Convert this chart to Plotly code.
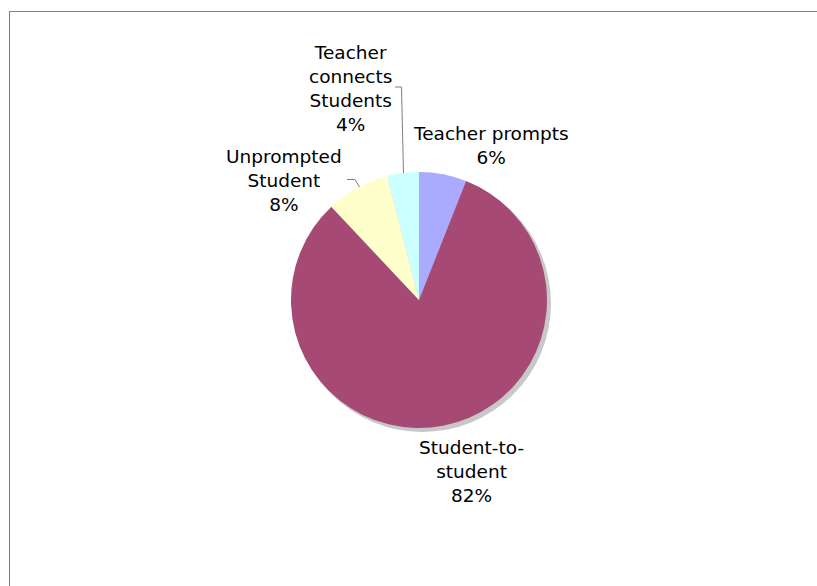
import plotly.graph_objects as go

# Share of discourse moves by who initiates them
categories = ["Teacher prompts", "Student-to-student", "Unprompted Student", "Teacher connects Students"]
label_text = ["Teacher prompts", "Student-to-<br>student", "Unprompted<br>Student", "Teacher<br>connects<br>Students"]
values = [6, 82, 8, 4]
colors = ["#aaaaff", "#a64a75", "#ffffcc", "#ccffff"]

W, H = 817, 586
cx, cy, r = 419, 300, 128


def px(x):
    return x / W


def py(y):
    return 1 - y / H


fig = go.Figure()
fig.add_trace(go.Pie(
    labels=categories,
    values=values,
    sort=False,
    direction="clockwise",
    rotation=0,
    marker=dict(colors=colors, line=dict(width=0)),
    textinfo="none",
    hoverinfo="label+percent",
    showlegend=False,
    domain=dict(x=[px(cx - r), px(cx + r)], y=[py(cy + r), py(cy - r)]),
))

total = sum(values)
# label centre positions (pixels) for each slice
label_pos = [(491, 145), (472, 471), (284, 180), (350, 88)]
annotations = []
for txt, v, (lx, ly) in zip(label_text, values, label_pos):
    pct = round(100 * v / total)
    annotations.append(dict(
        x=px(lx), y=py(ly), xref="paper", yref="paper",
        text=f"{txt}<br>{pct}%", showarrow=False,
        xanchor="center", yanchor="middle",
        font=dict(family="DejaVu Sans, Verdana, sans-serif", size=18.5, color="#000000"),
    ))

shapes = [
    # drop shadow under the pie
    dict(type="circle", xref="paper", yref="paper", layer="below",
         x0=px(cx - r + 3), x1=px(cx + r + 4), y0=py(cy + r + 4), y1=py(cy - r + 3),
         fillcolor="#c8c8c8", line=dict(width=0)),
    # chart frame
    dict(type="line", xref="paper", yref="paper", x0=px(9), x1=px(817), y0=py(11.5), y1=py(11.5),
         line=dict(color="#808080", width=1)),
    dict(type="line", xref="paper", yref="paper", x0=px(9.5), x1=px(9.5), y0=py(11), y1=py(586),
         line=dict(color="#808080", width=1)),
    # leader lines
    dict(type="path", xref="paper", yref="paper",
         path=f"M {px(395)},{py(87)} L {px(401.5)},{py(87)} L {px(403.5)},{py(173)}",
         line=dict(color="#808080", width=1)),
    dict(type="path", xref="paper", yref="paper",
         path=f"M {px(347)},{py(179.5)} L {px(355)},{py(179.5)} L {px(359.5)},{py(187)}",
         line=dict(color="#808080", width=1)),
]

fig.update_layout(
    width=W, height=H,
    margin=dict(l=0, r=0, t=0, b=0),
    paper_bgcolor="#ffffff",
    plot_bgcolor="#ffffff",
    annotations=annotations,
    shapes=shapes,
)

fig.write_html("out.html")
